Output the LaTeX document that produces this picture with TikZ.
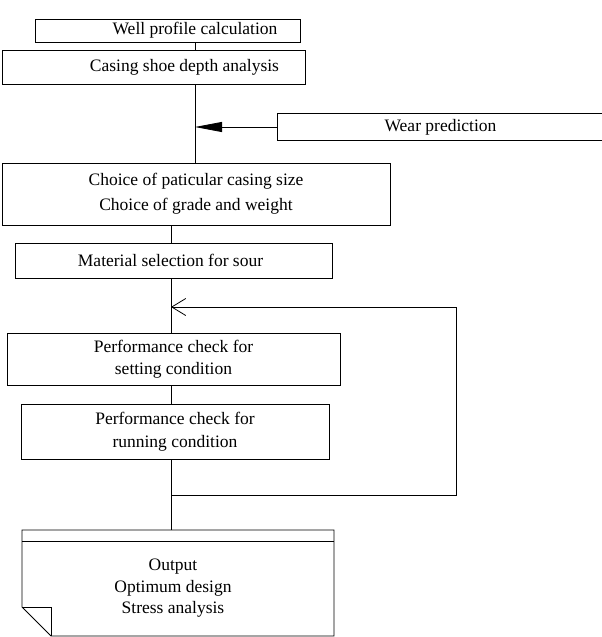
\documentclass[tikz,border=0pt]{standalone}
\usepackage{fontspec}
\setmainfont{Liberation Serif}
\usetikzlibrary{arrows.meta}
\begin{document}
\begin{tikzpicture}[x=1pt,y=-1pt,
  box/.style={draw,line width=0.8pt,inner sep=0pt,align=center,font=\fontsize{17.5}{22}\selectfont},
  txt/.style={inner sep=0pt,align=center,font=\fontsize{17.5}{21.5}\selectfont},
  conn/.style={line width=0.8pt}]
\useasboundingbox (0,0) rectangle (602,637);
\clip (0,0) rectangle (602,637);
\node[box,minimum width=265pt,minimum height=23pt] (b1) at (167.5,30.5) {\hspace*{55pt}Well profile calculation};
\node[box,minimum width=303pt,minimum height=34pt] (b2) at (153.5,67) {\hspace*{62pt}Casing shoe depth analysis};
\node[box,minimum width=333pt,minimum height=27pt] (wear) at (443.5,127) {\hspace*{-6pt}Wear prediction};
\node[box,minimum width=388pt,minimum height=62pt,font=\fontsize{17.5}{25}\selectfont] (b3) at (196,194) {Choice of paticular casing size\\Choice of grade and weight};
\node[box,minimum width=317pt,minimum height=35pt] (b4) at (173.5,260.5) {\hspace*{-6pt}Material selection for sour};
\node[box,minimum width=333pt,minimum height=52pt,font=\fontsize{17.5}{21.5}\selectfont] (b5) at (173.5,359) {Performance check for\\setting condition};
\node[box,minimum width=308pt,minimum height=55pt,font=\fontsize{17.5}{23}\selectfont] (b6) at (175,431.5) {Performance check for\\running condition};
% output document
\coordinate (dtl) at (22,530);
\coordinate (dtr) at (334,530);
\node[txt] (out) at (173,588.5) {Output\\Optimum design\\Stress analysis};
\draw[conn] (dtl) -- (dtr) -- (334,636) -- (51,636) -- (22,607) -- cycle;
\draw[conn] (22,541) -- (334,541);
\draw[conn] (22,607) -- (51,607) -- (51,636);
% connectors
\coordinate (j1) at (195,127);
\coordinate (j2) at (171,307);
\coordinate (j3) at (171,495);
\coordinate (r1) at (456,495);
\coordinate (r2) at (456,307);
\draw[conn] (b1.south -| 195,0) -- (b2.north -| 195,0);
\draw[conn] (b2.south -| 195,0) -- (b3.north -| 195,0);
\draw[conn,-{Triangle[length=27pt,width=10pt]}] (wear.west) -- (j1);
\draw[conn] (b3.south -| 171,0) -- (b4.north -| 171,0);
\draw[conn] (b4.south -| 171,0) -- (b5.north -| 171,0);
\draw[conn] (b5.south -| 171,0) -- (b6.north -| 171,0);
\draw[conn] (b6.south -| 171,0) -- (dtl -| 171,0);
\draw[conn,-{Straight Barb[length=14pt,width=17pt,line width=0.8pt]}] (j3) -- (r1) -- (r2) -- (j2);
\end{tikzpicture}
\end{document}
